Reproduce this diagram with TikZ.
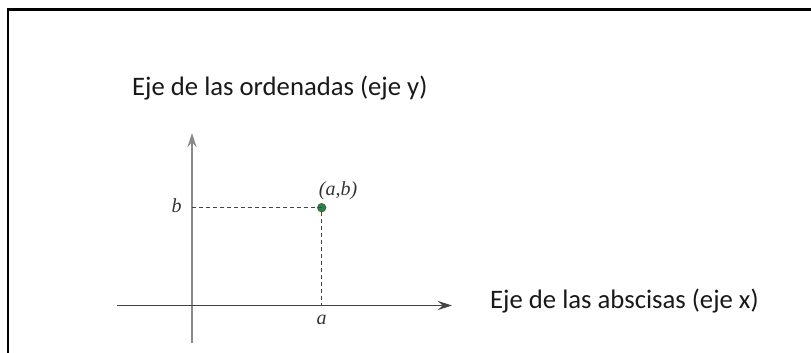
\documentclass[tikz,border=0pt]{standalone}
\usepackage{fontspec}
\setmainfont{Latin Modern Roman}
\newfontfamily\calfont{Carlito}
\newfontfamily\labfont{Liberation Serif}
\usetikzlibrary{arrows.meta}
\definecolor{axisgray}{HTML}{8A8A8A}
\definecolor{axisdark}{HTML}{444444}
\definecolor{dotgreen}{HTML}{1E8A3C}
\tikzset{
  frameline/.style={line width=2.2pt, black},
  yaxisline/.style={line width=1.3pt, axisgray},
  xaxisline/.style={line width=1.3pt, axisdark},
  guideline/.style={line width=0.9pt, axisdark, dash pattern=on 4pt off 3pt},
  axislabel/.style={font=\calfont\fontsize{26.7}{30}\selectfont, text=black!90, inner sep=0pt, anchor=base west},
  mathlabel/.style={font=\labfont\itshape\fontsize{20}{24}\selectfont, text=black!80, inner sep=0pt},
  tip/.style={-{Stealth[length=14pt,width=9pt]}}
}
\begin{document}
\begin{tikzpicture}[x=1pt,y=-1pt]
\useasboundingbox (0,0) rectangle (811,353);
% frame
\coordinate (ftl) at (8,9.5);
\coordinate (ftr) at (811,9.5);
\coordinate (fbl) at (8,353);
\draw[frameline] (ftr) -- (ftl) -- (fbl);
% axes
\coordinate (ybot) at (192,343);
\coordinate (ytop) at (192,133);
\coordinate (xleft) at (117,305.5);
\coordinate (xright) at (452,305.5);
\draw[yaxisline,tip] (ybot) -- (ytop);
\draw[xaxisline,tip] (xleft) -- (xright);
% point
\coordinate (yb) at (192,207.7);
\coordinate (xa) at (321.7,305.5);
\node[circle, fill=dotgreen, draw=black!70, line width=0.6pt, minimum size=8.5pt, inner sep=0pt] (P) at (321.7,207.7) {};
\draw[guideline] (yb) -- (P.center);
\draw[guideline] (P.south) -- (xa);
% labels
\node[mathlabel] (lb) at (176.5,206) {b};
\node[mathlabel] (lab) at (338,191) {(a,b)};
\node[mathlabel] (la) at (321.7,320) {a};
\node[axislabel] (ly) at (132,95.5) {Eje de las ordenadas (eje y)};
\node[axislabel] (lx) at (490,308.5) {Eje de las abscisas (eje x)};
\end{tikzpicture}
\end{document}
